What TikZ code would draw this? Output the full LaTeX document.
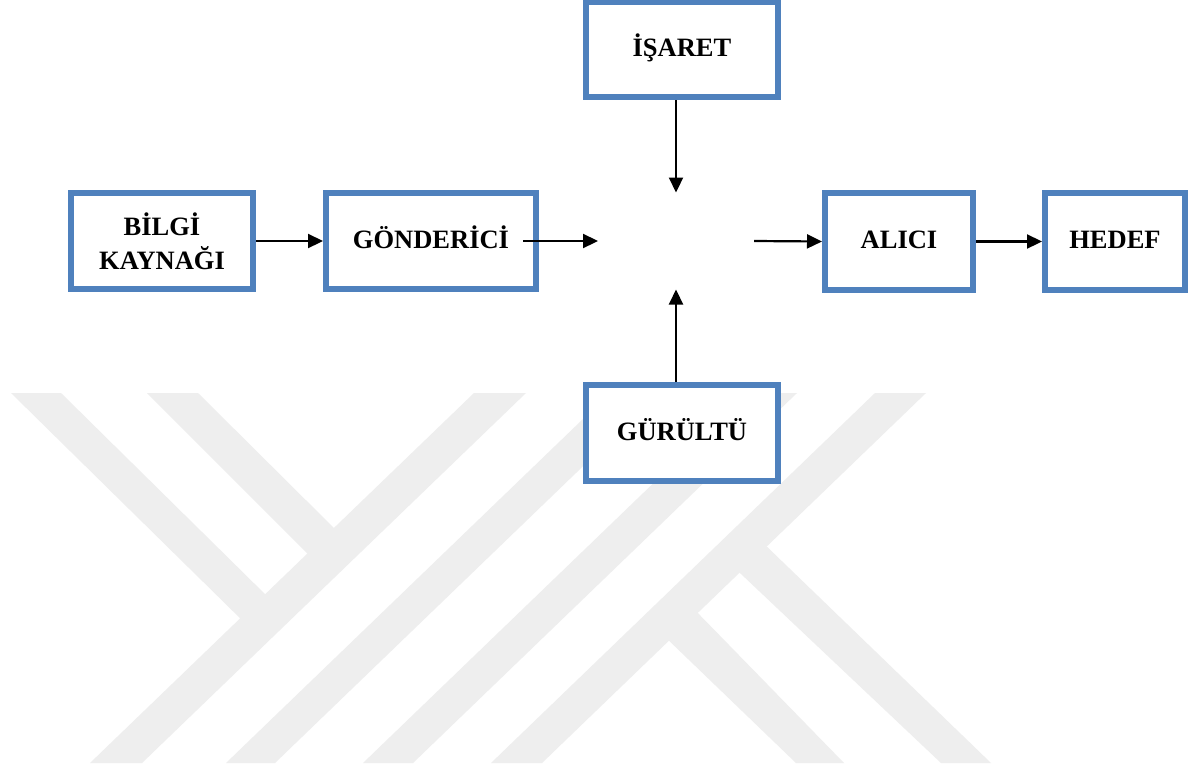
\documentclass[tikz,border=0pt]{standalone}
\usepackage{fontspec}
\setmainfont{Liberation Serif}
\usetikzlibrary{arrows.meta}
\definecolor{boxblue}{RGB}{79,129,189}
\definecolor{wm}{RGB}{238,238,238}
\begin{document}
\begin{tikzpicture}[x=1pt,y=-1pt,
  box/.style={draw=boxblue, line width=6pt, fill=white, inner sep=0pt,
    font=\fontsize{26.5}{34}\selectfont\bfseries, align=center},
  oneline/.style={text height=16pt, text depth=2pt},
  arr/.style={line width=2.2pt, -{Triangle[length=15pt,width=14pt]}},
  wmark/.style={fill=wm, draw=none}]
\useasboundingbox[fill=white] (0,0) rectangle (1198,774);
% watermark
\fill[wmark] (474,393) -- (526,393) -- (142,763) -- (90,763) -- cycle;
\fill[wmark] (11,393) -- (61,393) -- (271,600) -- (247,625) -- cycle;
\fill[wmark] (147,393) -- (198,393) -- (341,535) -- (314,560) -- cycle;
\fill[wmark] (610,393) -- (659,393) -- (275,763) -- (226,763) -- cycle;
\fill[wmark] (747,393) -- (797,393) -- (413,763) -- (363,763) -- cycle;
\fill[wmark] (875,393) -- (926,393) -- (542,763) -- (491,763) -- cycle;
\fill[wmark] (731.5,565) -- (760,540) -- (991,763) -- (941,763) -- cycle;
\fill[wmark] (661,633) -- (691,606) -- (844,763) -- (796,763) -- cycle;
% boxes
\node[box, minimum width=182pt, minimum height=96pt] (bilgi) at (162,241) {BİLGİ\\KAYNAĞI};
\node[box, oneline, minimum width=210pt, minimum height=96pt] (gonder) at (431,241) {GÖNDERİCİ};
\node[box, oneline, minimum width=192pt, minimum height=95pt] (isaret) at (682,49.5) {İŞARET};
\node[box, oneline, minimum width=192pt, minimum height=96pt] (gurultu) at (682,433) {GÜRÜLTÜ};
\node[box, oneline, minimum width=148pt, minimum height=97pt] (alici) at (899,241.5) {ALICI};
\node[box, oneline, minimum width=140pt, minimum height=97pt] (hedef) at (1115,241.5) {HEDEF};
\node[minimum width=156pt, minimum height=97pt, inner sep=0pt, outer sep=0pt] (kanal) at (676,241) {};
% connectors
\draw[arr] (bilgi.east) -- (gonder.west);
\draw[arr] ([xshift=-16pt]gonder.east) -- (kanal.west);
\draw[arr] (kanal.north |- isaret.south) -- (kanal.north);
\draw[arr] (kanal.south |- gurultu.north) -- (kanal.south);
\draw[arr] (kanal.east) -- (alici.west);
\draw[arr] (alici.east) -- (hedef.west);
\end{tikzpicture}
\end{document}
